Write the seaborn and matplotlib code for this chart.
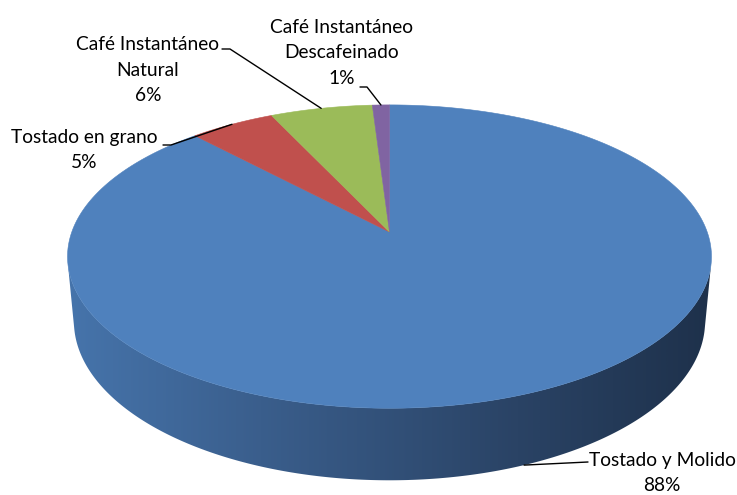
import numpy as np
import matplotlib
matplotlib.use("Agg")
import matplotlib.pyplot as plt
from matplotlib.patches import Polygon
from matplotlib.colors import LinearSegmentedColormap
import seaborn as sns

# Coffee consumption by type (%)
categories = ["Tostado y Molido", "Tostado en grano",
              "Café Instantáneo\nNatural", "Café Instantáneo\nDescafeinado"]
shares = [88, 5, 6, 1]
slice_colors = ["#4f81bd", "#c0504d", "#9bbb59", "#8064a2"]

sns.set_theme(style="white")
plt.rcParams["font.family"] = ["Lato", "DejaVu Sans"]

W, H = 737, 495
fig = plt.figure(figsize=(W / 100, H / 100), dpi=100)
ax = fig.add_axes([0, 0, 1, 1])
ax.set_xlim(0, W)
ax.set_ylim(H, 0)
ax.axis("off")

# perspective camera for the 3-D disc
elev = np.radians(27.7)
s_e, c_e = np.sin(elev), np.cos(elev)
R = 1.0          # disc radius
DIST = 5.464     # camera distance
FOC = 1736.0     # focal scale (pixels)
THICK = 0.232    # disc thickness
CX, CY = 389.5, 232.0


def project(phi, z=0.0, r=R):
    x = r * np.cos(phi)
    v = r * np.sin(phi)
    d = DIST + v * c_e - z * s_e
    up = v * s_e + z * c_e
    return CX + FOC * x / d, CY - FOC * up / d


# slice angles: start at 12 o'clock, go clockwise
total = float(sum(shares))
bounds = [np.pi / 2]
for val in shares:
    bounds.append(bounds[-1] - 2 * np.pi * val / total)

# side wall (front part only), filled with a left-to-right shading
side_cmap = LinearSegmentedColormap.from_list(
    "side", [(0.0, "#4674ab"), (0.3, "#3a5e8c"), (0.7, "#2a4365"), (1.0, "#1e314b")])
lim = np.arcsin(R / (DIST * c_e))
phis = np.linspace(np.pi + lim, 2 * np.pi - lim, 600)
top_edge = [project(p, 0.0) for p in phis]
bot_edge = [project(p, -THICK) for p in phis[::-1]]
side_poly = Polygon(top_edge + bot_edge, closed=True, facecolor="none",
                    edgecolor="none")
ax.add_patch(side_poly)
xs_l, xs_r = 68.0, 711.0
grad = np.linspace(0, 1, 512)[None, :]
img = ax.imshow(grad, cmap=side_cmap, extent=(xs_l, xs_r, 495, 200),
                aspect="auto", interpolation="bilinear", zorder=1)
img.set_clip_path(side_poly)
ax.set_xlim(0, W)
ax.set_ylim(H, 0)

# top face wedges
centre = project(0.0, 0.0, r=0.0)
for i, col in enumerate(slice_colors):
    arc = np.linspace(bounds[i], bounds[i + 1], 300)
    pts = [centre] + [project(p) for p in arc]
    ax.add_patch(Polygon(pts, closed=True, facecolor=col, edgecolor=col,
                         linewidth=0.4, zorder=2))

# labels with leader lines
mids = [(bounds[i] + bounds[i + 1]) / 2 for i in range(len(shares))]
label_texts = [f"{cat}\n{val}%" for cat, val in zip(categories, shares)]
label_pos = [(662, 473), (84, 150), (148, 70), (342, 53)]
elbows = [[(588, 462)], [(163, 145), (171, 145)], [(222, 49), (230, 49)],
          [(360, 87), (367, 87)]]

for i, txt in enumerate(label_texts):
    ax.text(label_pos[i][0], label_pos[i][1], txt, ha="center", va="center",
            fontsize=13.8, linespacing=1.62, color="#000000", zorder=4)
    if i == 0:
        anchor = project(mids[i], -THICK)
        pts = [(anchor[0], anchor[1])] + elbows[i]
    else:
        anchor = project(mids[i])
        pts = elbows[i] + [(anchor[0], anchor[1])]
    ax.plot([p[0] for p in pts], [p[1] for p in pts], color="black", lw=1.0,
            zorder=3)

fig.savefig("out.png", dpi=100)
